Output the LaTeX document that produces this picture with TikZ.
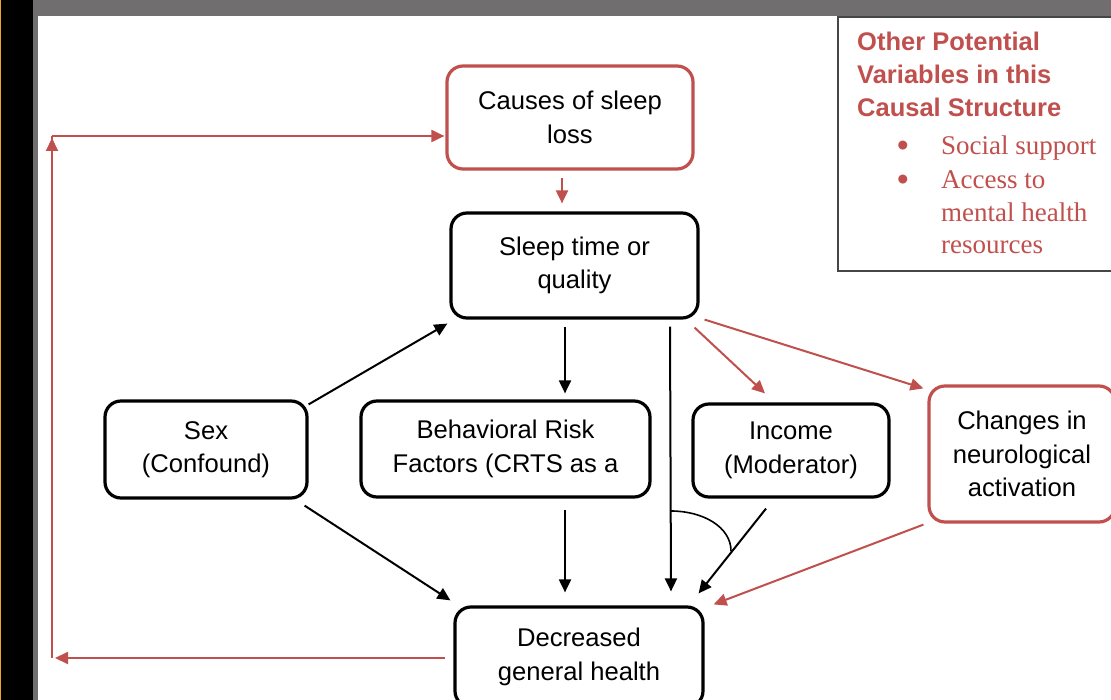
\documentclass[tikz,border=0pt]{standalone}
\usepackage{fontspec}
\setmainfont{Liberation Sans}
\newfontfamily\legserif{Liberation Serif}
\usetikzlibrary{arrows.meta}
\definecolor{cred}{RGB}{192,80,77}
\definecolor{topgray}{RGB}{112,110,111}
\definecolor{legframe}{RGB}{70,70,70}
\definecolor{edgeorange}{RGB}{235,165,40}
\begin{document}
\begin{tikzpicture}[x=1pt,y=-1pt,
  box/.style={draw=black, line width=3.2pt, rounded corners=16pt, align=center,
    font=\fontsize{25.6}{33.5}\selectfont, inner sep=0pt},
  redbox/.style={box, draw=cred},
  arr/.style={line width=2pt, -{Triangle[length=13pt,width=12pt]}},
  redarr/.style={arr, draw=cred},
  headtxt/.style={anchor=base west, text=cred, inner sep=0pt, font=\bfseries\fontsize{25.5}{33}\selectfont},
  itemtxt/.style={anchor=base west, text=cred, inner sep=0pt, font=\legserif\fontsize{27}{33}\selectfont},
  bullettxt/.style={anchor=base, text=cred, inner sep=0pt, font=\fontsize{33}{33}\selectfont}
]
\useasboundingbox (0,0) rectangle (1111,700);
\fill[white] (0,0) rectangle (1111,700);
\fill[black] (0,0) rectangle (33,700);
\fill[edgeorange] (0,0) rectangle (1,700);
\fill[topgray] (33,0) rectangle (1111,16);
\fill[topgray] (33,0) rectangle (38,700);

% legend
\draw[legframe, line width=1.5pt] (838,17) rectangle (1125,271);
\node[headtxt] (h1) at (857,51) {Other Potential};
\node[headtxt] (h2) at (857,84) {Variables in this};
\node[headtxt] (h3) at (857,117) {Causal Structure};
\node[bullettxt] (b1) at (903,157) {•};
\node[itemtxt] (i1) at (941,155) {Social support};
\node[bullettxt] (b2) at (903,191) {•};
\node[itemtxt] (i2) at (941,189) {Access to};
\node[itemtxt] (i3) at (941,222) {mental health};
\node[itemtxt] (i4) at (941,254) {resources};

% nodes
\node[redbox, minimum width=246pt, minimum height=103pt] (causes) at (570,117.5) {Causes of sleep\\loss};
\node[box, minimum width=247pt, minimum height=105pt] (sleep) at (574.5,265.5) {Sleep time or\\quality};
\node[box, minimum width=202pt, minimum height=97pt] (sex) at (206,449.5) {Sex\\(Confound)};
\node[box, minimum width=289pt, minimum height=96pt] (behav) at (505.5,449) {Behavioral Risk\\Factors (CRTS as a};
\node[box, minimum width=196pt, minimum height=93pt] (income) at (791,450.5) {Income\\(Moderator)};
\node[redbox, minimum width=186pt, minimum height=136pt] (changes) at (1022,454) {Changes in\\neurological\\activation};
\node[box, minimum width=248pt, minimum height=100pt] (dec) at (579,657) {Decreased\\general health};

% connectors
\draw[redarr] ([xshift=-8pt,yshift=-7pt]causes.south) -- ([xshift=-12.5pt,yshift=8pt]sleep.north);
\draw[arr] ([xshift=-9.5pt,yshift=-7pt]sleep.south) -- ([xshift=59.5pt,yshift=6pt]behav.north);
\draw[arr] ([xshift=95.5pt,yshift=-7pt]sleep.south) -- ([xshift=92pt,yshift=14pt]dec.north);
\draw[arr] ([yshift=-5pt]sex.north east) -- ([xshift=-2pt,yshift=-4pt]sleep.south west);
\draw[arr] ([xshift=-4pt,yshift=-6pt]sex.south east) -- ([xshift=-3pt,yshift=5pt]dec.north west);
\draw[arr] ([xshift=59.5pt,yshift=-11pt]behav.south) -- ([xshift=-14pt,yshift=13pt]dec.north);
\draw[arr] ([xshift=-25pt,yshift=-10pt]income.south) -- ([xshift=-6pt,yshift=12pt]dec.north east);
\draw[redarr] ([xshift=-4pt,yshift=-1pt]changes.south west) -- ([xshift=9pt,yshift=1pt]dec.north east);
\draw[redarr] ([xshift=-5pt,yshift=-8pt]sleep.south east) -- ([xshift=-26pt,yshift=9pt]income.north);
\draw[redarr] ([xshift=5pt]sleep.south east) -- ([xshift=-4pt,yshift=-4pt]changes.north west);

\coordinate (bl) at (52,658);
\coordinate (tl) at (52,136);
\draw[redarr] ([xshift=-8pt,yshift=-1pt]dec.west) -- ([xshift=3pt]bl);
\draw[cred, line width=2pt] (bl) -- (tl);
\draw[redarr] (bl) -- ([yshift=-2pt]tl);
\draw[redarr] (tl) -- ([xshift=-1pt,yshift=-18.5pt]causes.west);

% moderation arc
\draw[line width=1.6pt] (671,511) .. controls (703,511) and (731,527) .. (731,551);
\end{tikzpicture}
\end{document}
